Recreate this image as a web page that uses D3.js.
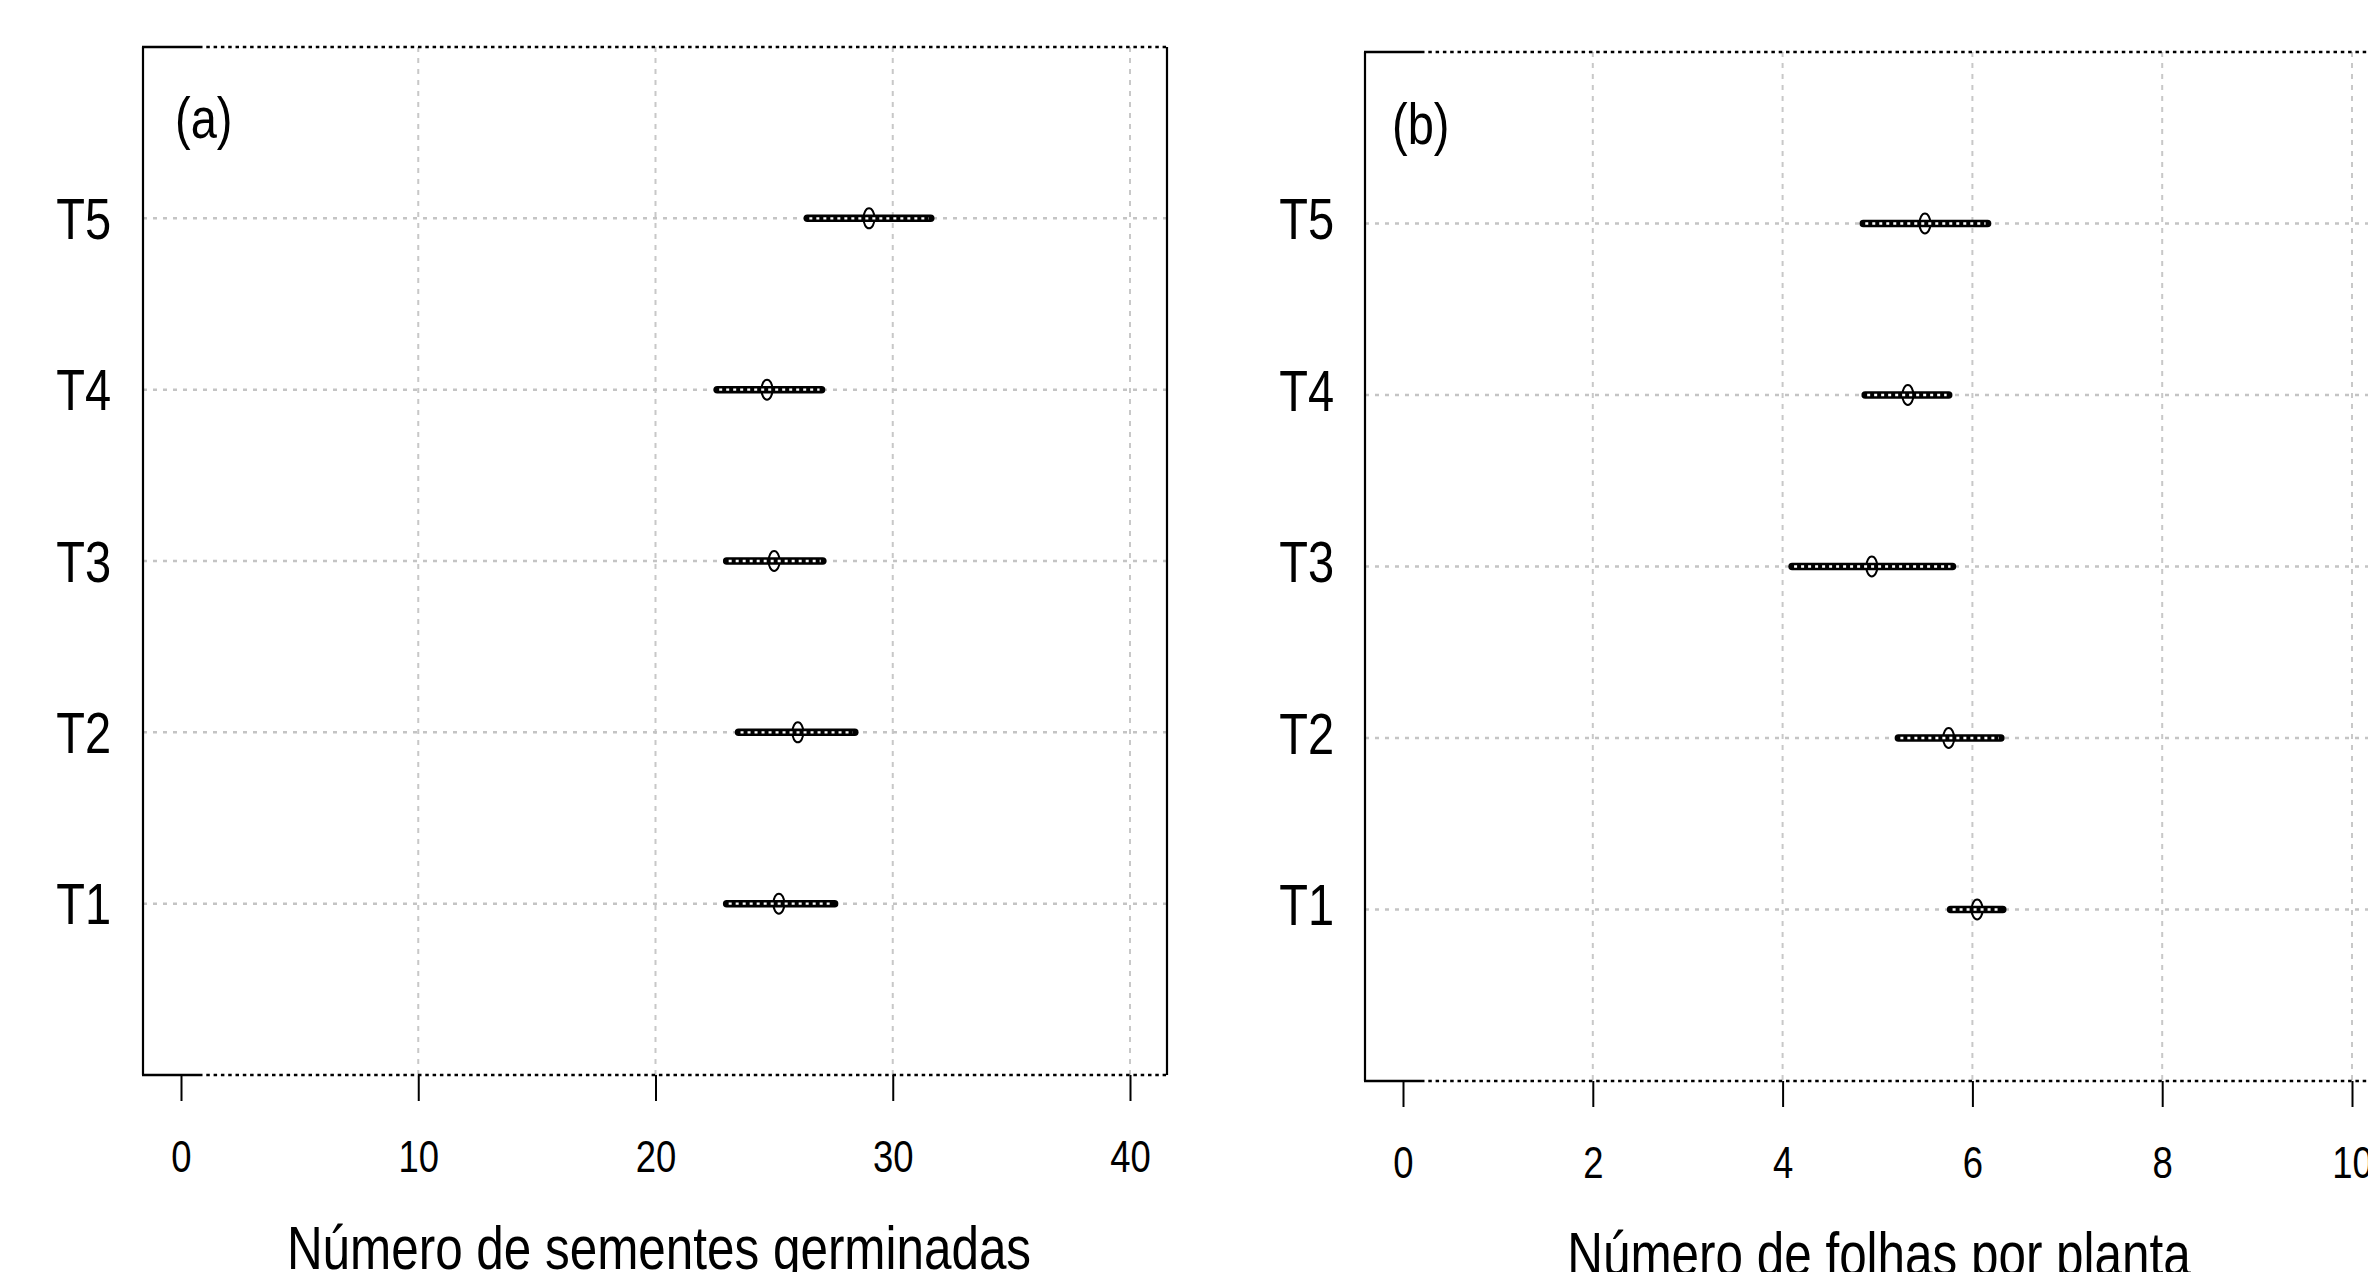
<!DOCTYPE html>
<html>
<head>
<meta charset="utf-8">
<script src="https://cdn.jsdelivr.net/npm/d3@7"></script>
<style>
  html, body { margin: 0; padding: 0; background: #fff; }
  svg { display: block; }
  text { font-family: "Liberation Sans", Arial, sans-serif; fill: #000; }
</style>
</head>
<body>
<svg id="chart" width="2368" height="1272"></svg>
<script>
// ---------- data ----------
const categories = ["T1", "T2", "T3", "T4", "T5"];

const germMean = [25.2, 26.0, 25.0, 24.7, 29.0];
const germLow  = [23.0, 23.5, 23.0, 22.6, 26.4];
const germHigh = [27.55, 28.4, 27.05, 27.0, 31.6];

const leafMean = [6.05, 5.75, 4.94, 5.32, 5.50];
const leafLow  = [5.77, 5.22, 4.10, 4.87, 4.85];
const leafHigh = [6.32, 6.30, 5.79, 5.75, 6.16];

const ticksA = [0, 10, 20, 30, 40];
const ticksB = [0, 2, 4, 6, 8, 10];

const panelLabels = ["(a)", "(b)"];
const xTitles = ["Número de sementes germinadas", "Número de folhas por planta"];

// ---------- layout ----------
const SX = 0.81; // horizontal squeeze of the original picture's text
const svg = d3.select("#chart");
svg.append("rect").attr("width", 2368).attr("height", 1272).attr("fill", "#fff");

const panels = [
  { left: 143, right: 1167, top: 47, bottom: 1075, x0: 181, x1: 1130, domain: [0, 40],
    ticks: ticksA, mean: germMean, low: germLow, high: germHigh,
    labX: 111, labDy: 20, tagX: 175, tagY: 138, titleX: 659, titleY: 1269, tickLabY: 97,
    label: panelLabels[0], title: xTitles[0] },
  { left: 1365, right: 2393, top: 52, bottom: 1081, x0: 1403, x1: 2352, domain: [0, 10],
    ticks: ticksB, mean: leafMean, low: leafLow, high: leafHigh,
    labX: 1334, labDy: 15, tagX: 1392, tagY: 144, titleX: 1879, titleY: 1275, tickLabY: 97,
    label: panelLabels[1], title: xTitles[1] }
];

panels.forEach(p => {
  const x = d3.scaleLinear().domain(p.domain).range([p.x0, p.x1]);
  const y = d3.scaleLinear().domain([0, categories.length + 1]).range([p.bottom, p.top]);
  const g = svg.append("g");

  // vertical dashed grid lines (not at 0)
  g.selectAll("line.vgrid").data(p.ticks.filter(t => t !== 0)).join("line")
    .attr("class", "vgrid")
    .attr("x1", d => x(d)).attr("x2", d => x(d))
    .attr("y1", p.top).attr("y2", p.bottom)
    .attr("stroke", "#c8c8c8").attr("stroke-width", 2)
    .attr("stroke-dasharray", "5,6");

  // horizontal dotted grid lines at each category
  g.selectAll("line.hgrid").data(categories).join("line")
    .attr("class", "hgrid")
    .attr("x1", p.left).attr("x2", p.right)
    .attr("y1", (d, i) => y(i + 1)).attr("y2", (d, i) => y(i + 1))
    .attr("stroke", "#c4c4c4").attr("stroke-width", 2.5)
    .attr("stroke-dasharray", "4,6");

  // frame: solid left/right, dotted top/bottom with short solid start
  [p.left, p.right].forEach(xx => {
    g.append("line").attr("x1", xx).attr("x2", xx).attr("y1", p.top).attr("y2", p.bottom)
      .attr("stroke", "#000").attr("stroke-width", 2.2);
  });
  [p.top, p.bottom].forEach(yy => {
    g.append("line").attr("x1", p.left - 1).attr("x2", p.left + 56).attr("y1", yy).attr("y2", yy)
      .attr("stroke", "#000").attr("stroke-width", 2.6);
    g.append("line").attr("x1", p.left + 56).attr("x2", p.right).attr("y1", yy).attr("y2", yy)
      .attr("stroke", "#000").attr("stroke-width", 2.4).attr("stroke-dasharray", "3.5,3.8");
  });

  // x axis
  const ax = g.append("g").attr("transform", `translate(0,${p.bottom})`)
    .call(d3.axisBottom(x).tickValues(p.ticks).tickSize(26).tickFormat(d3.format("d")));
  ax.select(".domain").remove();
  ax.selectAll(".tick line").attr("stroke", "#000").attr("stroke-width", 2);
  ax.selectAll(".tick text")
    .attr("y", p.tickLabY).attr("dy", null)
    .attr("transform", `scale(${SX},1)`)
    .style("font-size", "45px")
    .style("font-family", '"Liberation Sans", Arial, sans-serif')
    .attr("fill", "#000");

  // y axis (category labels)
  const ay = g.append("g").attr("transform", `translate(${p.labX},0)`)
    .call(d3.axisLeft(y).tickValues(categories.map((c, i) => i + 1))
      .tickSize(0).tickFormat(d => categories[d - 1]));
  ay.select(".domain").remove();
  ay.selectAll(".tick line").remove();
  ay.selectAll(".tick text")
    .attr("x", 0).attr("y", p.labDy).attr("dy", null)
    .attr("text-anchor", "end")
    .attr("transform", `scale(${SX},1)`)
    .style("font-size", "58px")
    .style("font-family", '"Liberation Sans", Arial, sans-serif')
    .attr("fill", "#000");

  // markers and interval bars
  const rows = categories.map((c, i) => ({ c, i, m: p.mean[i], lo: p.low[i], hi: p.high[i] }));
  const mk = g.selectAll("g.row").data(rows).join("g").attr("class", "row");
  mk.append("ellipse")
    .attr("cx", d => x(d.m)).attr("cy", d => y(d.i + 1))
    .attr("rx", 5.5).attr("ry", 10)
    .attr("fill", "#fff").attr("stroke", "#000").attr("stroke-width", 2);
  mk.append("line")
    .attr("x1", d => x(d.lo)).attr("x2", d => x(d.hi))
    .attr("y1", d => y(d.i + 1)).attr("y2", d => y(d.i + 1))
    .attr("stroke", "#000").attr("stroke-width", 7.5).attr("stroke-linecap", "round");
  mk.append("line")
    .attr("x1", d => x(d.lo) + 2).attr("x2", d => x(d.hi) - 2)
    .attr("y1", d => y(d.i + 1)).attr("y2", d => y(d.i + 1))
    .attr("stroke", "#fff").attr("stroke-width", 2.4).attr("stroke-dasharray", "3,4");

  // panel tag
  g.append("text")
    .attr("transform", `translate(${p.tagX},${p.tagY}) scale(${SX},1)`)
    .style("font-size", "58px")
    .text(p.label);

  // x title
  g.append("text")
    .attr("transform", `translate(${p.titleX},${p.titleY}) scale(${SX},1)`)
    .attr("text-anchor", "middle")
    .style("font-size", "61px")
    .text(p.title);
});
</script>
</body>
</html>
